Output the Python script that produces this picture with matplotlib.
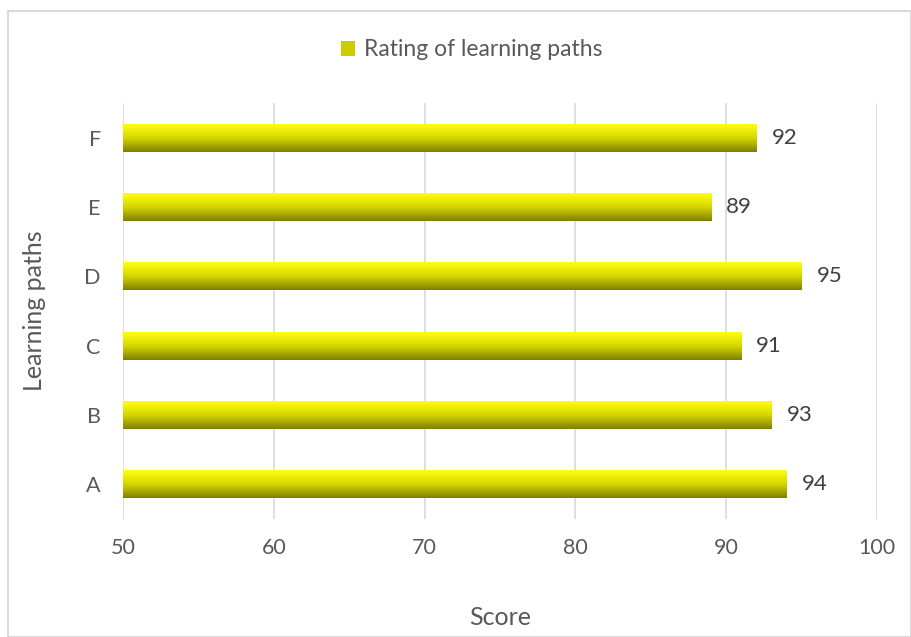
import numpy as np
import matplotlib.pyplot as plt
from matplotlib.patches import Rectangle, Patch
from matplotlib.colors import LinearSegmentedColormap

# data
paths = ["A", "B", "C", "D", "E", "F"]
scores = [94, 93, 91, 95, 89, 92]
series_name = "Rating of learning paths"

plt.rcParams['font.family'] = ['Lato', 'DejaVu Sans']

fig = plt.figure(figsize=(9.12, 6.37), dpi=100)
ax = fig.add_axes([0.1349, 0.1852, 0.8267, 0.6531])

# outer chart border
fig.patches.append(Rectangle((8 / 912, 0), 903 / 912, 626 / 637, transform=fig.transFigure,
                             fill=False, edgecolor="#d9d9d9", linewidth=1.5))

y = np.arange(len(paths))
bars = ax.barh(y, [s - 50 for s in scores], left=50, height=0.4, color="none", zorder=3)

# gradient fill: bright yellow on top, olive at bottom
cmap = LinearSegmentedColormap.from_list("yel", ["#7f7f00", "#d6d600", "#ffff10"])
grad = np.linspace(0, 1, 256).reshape(-1, 1)
for b in bars:
    x0, y0 = b.get_x(), b.get_y()
    ax.imshow(grad, cmap=cmap, origin="lower", aspect="auto", zorder=3,
              extent=[x0, x0 + b.get_width(), y0, y0 + b.get_height()])

for yi, s in zip(y, scores):
    ax.text(s + 1.0, yi, str(s), va="center", ha="left", fontsize=16, color="#404040")

ax.set_xlim(50, 100)
ax.set_ylim(-0.5, len(paths) - 0.5)
ax.set_xticks(range(50, 101, 10))
ax.set_yticks(y)
ax.set_yticklabels(paths)
ax.tick_params(length=0, labelsize=15.5, labelcolor="#595959", pad=16)
ax.tick_params(axis="x", pad=14)
ax.grid(axis="x", color="#d9d9d9", linewidth=1.2, zorder=0)
for sp in ax.spines.values():
    sp.set_visible(False)

ax.set_xlabel("Score", fontsize=18, color="#595959", labelpad=34)
ax.set_ylabel("Learning paths", fontsize=18, color="#595959", labelpad=28)

fig.legend(handles=[Patch(facecolor="#cccc00", edgecolor="none", label=series_name)],
           loc="center", bbox_to_anchor=(0.517, 1 - 50 / 637), frameon=False,
           fontsize=16.5, handlelength=0.6, handleheight=0.6, handletextpad=0.4,
           labelcolor="#595959")

fig.savefig("out.png", dpi=100)
